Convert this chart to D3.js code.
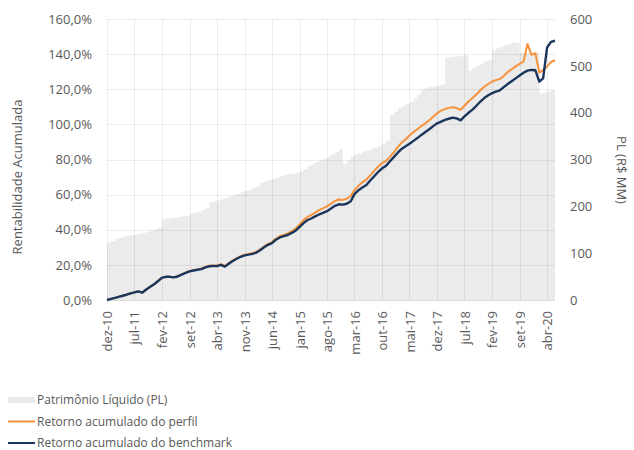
<!DOCTYPE html>
<html lang="pt">
<head>
    <meta charset="UTF-8">
    <title>Rentabilidade Acumulada</title>
    <style>
        body {
            margin: 0;
            font-family: "Open Sans", Arial, sans-serif;
            background: #fff;
        }
        text {
            fill: #595959;
        }
    </style>
</head>
<body>
    <div id="chart"></div>

    <script src="https://d3js.org/d3.v7.min.js"></script>
    <script>
        // Monthly series, first month = dez-10, last = jun-20
        const startMonth = '2010-12';
        const endMonth = '2020-06';

        // Patrimônio Líquido (R$ MM)
        const pl = [
            122, 126, 130, 133, 135, 137, 139, 140, 141, 143,
            145, 148, 151, 155, 172, 174, 175, 176, 177, 179,
            180, 184, 186, 189, 192, 196, 208, 211, 213, 215,
            218, 221, 224, 227, 230, 233, 236, 240, 244, 250,
            253, 256, 258, 261, 264, 267, 269, 270, 272, 275,
            279, 285, 290, 294, 298, 301, 306, 311, 316, 322,
            290, 298, 306, 310, 313, 317, 320, 323, 326, 330,
            334, 340, 395, 402, 410, 414, 418, 423, 430, 438,
            450, 453, 455, 456, 458, 460, 518, 519, 520, 520,
            521, 523, 490, 495, 500, 505, 510, 512, 533, 537,
            541, 544, 547, 550, 548, 528, 527, 527, 528, 530,
            441, 443, 446, 449, 452
        ];

        // Retorno acumulado do perfil (%)
        const perfil = [
            0, 0.6, 1.2, 1.8, 2.4, 3.0, 3.8, 4.3, 4.9, 4.2,
            6.0, 7.5, 9.0, 10.8, 12.7, 13.2, 13.3, 13.0, 13.6, 14.6,
            15.6, 16.5, 17.0, 17.4, 17.9, 18.9, 19.5, 19.7, 19.6, 20.4,
            19.4, 21.0, 22.6, 23.9, 25.0, 25.8, 26.2, 26.8, 27.5, 28.8,
            30.6, 32.0, 33.0, 35.0, 36.4, 37.2, 37.9, 39.2, 40.6, 43.0,
            45.5, 47.2, 48.4, 49.8, 51.2, 52.2, 53.3, 54.8, 56.4, 57.2,
            57.0, 57.6, 59.2, 62.6, 65.0, 67.0, 68.6, 71.0, 73.5, 76.0,
            78.0, 79.2, 81.6, 84.2, 87.2, 89.6, 91.6, 93.6, 95.6, 97.2,
            99.0, 100.6, 102.4, 104.4, 106.4, 107.8, 108.8, 109.4, 109.8, 109.3,
            108.3, 110.6, 113.0, 115.0, 117.0, 119.4, 121.4, 123.0, 124.4, 125.2,
            125.8, 127.6, 129.8, 131.4, 133.0, 134.4, 135.8, 145.8, 139.6, 140.5,
            129.5, 131.0, 133.0, 135.5, 136.5
        ];

        // Retorno acumulado do benchmark (%)
        const benchmark = [
            0, 0.6, 1.2, 1.8, 2.4, 3.0, 3.8, 4.3, 4.9, 4.2,
            6.0, 7.5, 9.0, 10.8, 12.7, 13.2, 13.2, 12.9, 13.4, 14.4,
            15.4, 16.3, 16.8, 17.2, 17.6, 18.6, 19.2, 19.4, 19.3, 20.0,
            19.0, 20.6, 22.2, 23.5, 24.6, 25.4, 25.8, 26.3, 27.0, 28.3,
            30.0, 31.4, 32.4, 34.3, 35.6, 36.4, 37.0, 38.2, 39.5, 41.6,
            43.8, 45.4, 46.4, 47.6, 48.7, 49.6, 50.6, 52.1, 53.6, 54.5,
            54.3, 54.8, 56.2, 60.3, 62.5, 64.0, 65.5, 68.0, 70.5, 73.0,
            75.0, 76.5, 79.0, 81.5, 84.0, 86.0, 87.6, 89.0, 90.6, 92.2,
            94.0, 95.6, 97.2, 99.0, 100.6, 101.6, 102.6, 103.2, 103.8, 103.4,
            102.3, 104.5, 106.6, 108.4, 110.6, 113.0, 115.0, 116.6, 117.8, 118.6,
            119.4, 121.2, 123.0, 124.6, 126.2, 127.8, 129.4, 130.6, 131.0, 130.8,
            124.3, 126.2, 143.8, 147.0, 147.6
        ];

        // x tick labels, one every 7 months from dez-10
        const tickLabels = [
            'dez-10', 'jul-11', 'fev-12', 'set-12', 'abr-13', 'nov-13',
            'jun-14', 'jan-15', 'ago-15', 'mar-16', 'out-16', 'mai-17',
            'dez-17', 'jul-18', 'fev-19', 'set-19', 'abr-20'
        ];
        const leftTicks = [0, 20, 40, 60, 80, 100, 120, 140, 160];
        const rightTicks = [0, 100, 200, 300, 400, 500, 600];

        const legendItems = [
            {label: 'Patrimônio Líquido (PL)', type: 'area'},
            {label: 'Retorno acumulado do perfil', type: 'perfil'},
            {label: 'Retorno acumulado do benchmark', type: 'benchmark'}
        ];

        const colors = {area: '#ebebeb', perfil: '#f7923a', benchmark: '#1b365d'};

        const W = 634, H = 450;
        const margin = {top: 19, right: 79, bottom: 150, left: 107};

        const parseMonth = d3.utcParse('%Y-%m');
        const t0 = parseMonth(startMonth);
        const t1 = parseMonth(endMonth);
        const months = d3.utcMonth.range(t0, d3.utcMonth.offset(t1, 1));

        const data = months.map((d, i) => ({
            date: d, pl: pl[i], perfil: perfil[i], benchmark: benchmark[i]
        }));

        const svg = d3.select('#chart')
                      .append('svg')
                      .attr('width', W)
                      .attr('height', H);

        const x = d3.scaleUtc()
                    .domain([t0, t1])
                    .range([margin.left, W - margin.right]);

        const yL = d3.scaleLinear()
                     .domain([0, 160])
                     .range([H - margin.bottom, margin.top]);

        const yR = d3.scaleLinear()
                     .domain([0, 600])
                     .range([H - margin.bottom, margin.top]);

        const xTicks = tickLabels.map((_, i) => d3.utcMonth.offset(t0, i * 7));

        // PL area
        const area = d3.area()
                       .curve(d3.curveStepAfter)
                       .x(d => x(d.date))
                       .y0(yR(0))
                       .y1(d => yR(d.pl));

        svg.append('path')
           .datum(data)
           .attr('d', area)
           .attr('fill', colors.area);

        // grid lines (drawn over the area, slightly transparent)
        const grid = svg.append('g').attr('stroke', 'rgba(0,0,0,0.07)').attr('stroke-width', 1);
        grid.selectAll('.hgrid')
            .data(leftTicks.slice(1))
            .enter()
            .append('line')
            .attr('x1', margin.left)
            .attr('x2', W - margin.right)
            .attr('y1', d => Math.round(yL(d)) + 0.5)
            .attr('y2', d => Math.round(yL(d)) + 0.5);

        grid.selectAll('.vgrid')
            .data(xTicks)
            .enter()
            .append('line')
            .attr('x1', d => Math.round(x(d)) + 0.5)
            .attr('x2', d => Math.round(x(d)) + 0.5)
            .attr('y1', margin.top)
            .attr('y2', H - margin.bottom);

        // baseline
        svg.append('line')
           .attr('x1', margin.left)
           .attr('x2', W - margin.right)
           .attr('y1', yL(0) + 0.5)
           .attr('y2', yL(0) + 0.5)
           .attr('stroke', '#d9d9d9');

        // return lines
        ['perfil', 'benchmark'].forEach(key => {
            const line = d3.line()
                           .x(d => x(d.date))
                           .y(d => yL(d[key]));
            svg.append('path')
               .datum(data)
               .attr('d', line)
               .attr('fill', 'none')
               .attr('stroke', colors[key])
               .attr('stroke-width', key === 'benchmark' ? 2.4 : 2)
               .attr('stroke-linejoin', 'round');
        });

        // axes
        const fmtPct = v => d3.format('.1f')(v).replace('.', ',') + '%';

        const axisL = svg.append('g')
                         .attr('transform', 'translate(' + (margin.left - 15) + ',0)')
                         .call(d3.axisLeft(yL).tickValues(leftTicks).tickFormat(fmtPct).tickSize(0));

        const axisR = svg.append('g')
                         .attr('transform', 'translate(' + (W - margin.right + 15) + ',0)')
                         .call(d3.axisRight(yR).tickValues(rightTicks).tickSize(0));

        const axisB = svg.append('g')
                         .attr('transform', 'translate(0,' + (H - margin.bottom + 11) + ')')
                         .call(d3.axisBottom(x).tickValues(xTicks).tickFormat((d, i) => tickLabels[i]).tickSize(0));

        [axisL, axisR, axisB].forEach(g => {
            g.select('.domain').remove();
            g.selectAll('text')
             .attr('fill', '#595959')
             .style('font-family', '"Open Sans", Arial, sans-serif')
             .style('font-size', '13px');
        });
        axisL.selectAll('text').attr('x', 0);
        axisR.selectAll('text').attr('x', 0);

        axisB.selectAll('text')
             .attr('transform', 'rotate(-90)')
             .attr('x', 0)
             .attr('y', 0)
             .attr('dy', '0.35em')
             .style('text-anchor', 'end');

        // axis titles
        svg.append('text')
           .attr('transform', 'translate(17,177) rotate(-90)')
           .style('text-anchor', 'middle')
           .attr('dy', '0.35em')
           .style('font-size', '13px')
           .text('Rentabilidade Acumulada');

        svg.append('text')
           .attr('transform', 'translate(622,170) rotate(90)')
           .style('text-anchor', 'middle')
           .attr('dy', '0.35em')
           .style('font-size', '13px')
           .text('PL (R$ MM)');

        // legend
        const legend = svg.append('g').attr('transform', 'translate(8,400)');
        legendItems.forEach((item, i) => {
            const g = legend.append('g').attr('transform', 'translate(0,' + (i * 21.5) + ')');
            if (item.type === 'area') {
                g.append('rect')
                 .attr('x', 0).attr('y', -3)
                 .attr('width', 27).attr('height', 6)
                 .attr('fill', colors.area);
            } else {
                g.append('line')
                 .attr('x1', 0).attr('x2', 27)
                 .attr('y1', 0).attr('y2', 0)
                 .attr('stroke', colors[item.type])
                 .attr('stroke-width', 2);
            }
            g.append('text')
             .attr('x', 29)
             .attr('dy', '0.35em')
             .style('font-size', '12px')
             .text(item.label);
        });
    </script>
</body>
</html>
